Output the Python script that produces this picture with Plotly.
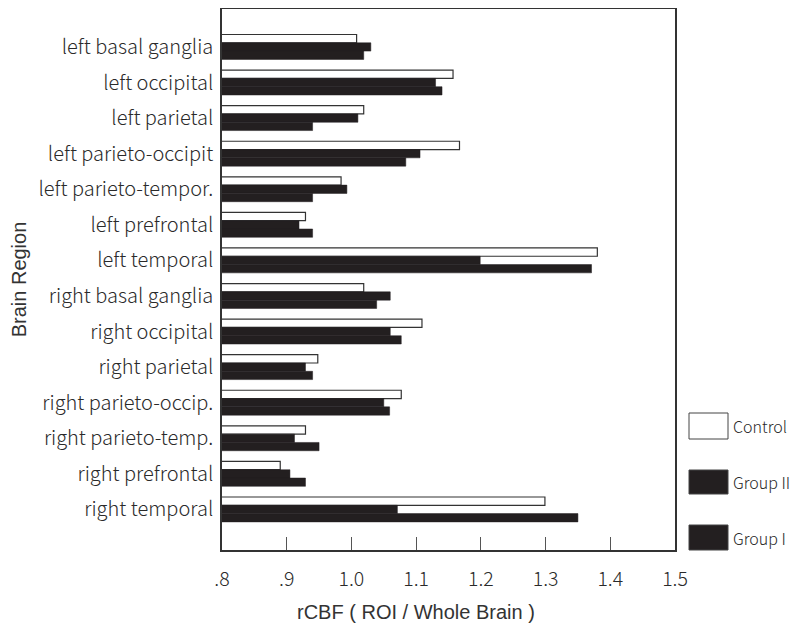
import plotly.graph_objects as go

regions = ["left basal ganglia", "left occipital", "left parietal", "left parieto-occipit",
           "left parieto-tempor.", "left prefrontal", "left temporal", "right basal ganglia",
           "right occipital", "right parietal", "right parieto-occip.", "right parieto-temp.",
           "right prefrontal", "right temporal"]
control = [1.008, 1.157, 1.019, 1.167, 0.984, 0.929, 1.380, 1.019, 1.109, 0.948, 1.077, 0.929, 0.890, 1.299]
group2 = [1.030, 1.130, 1.010, 1.106, 0.993, 0.919, 1.199, 1.060, 1.060, 0.929, 1.050, 0.912, 0.905, 1.071]
group1 = [1.019, 1.140, 0.940, 1.084, 0.940, 0.940, 1.371, 1.039, 1.077, 0.940, 1.059, 0.950, 0.929, 1.350]
tick_vals = [0.8, 0.9, 1.0, 1.1, 1.2, 1.3, 1.4, 1.5]
tick_text = [".8", ".9", "1.0", "1.1", "1.2", "1.3", "1.4", "1.5"]
x_title = "rCBF ( ROI / Whole Brain )"
y_title = "Brain Region"

FONT = "Noto Sans CJK JP"
SANS = "Liberation Sans, Arial, sans-serif"
INK = "#231f20"
TXT = "#2a2a2a"

fig = go.Figure()
# with the reversed category axis the first trace is drawn on top of each group
fig.add_trace(go.Bar(y=regions, x=control, name="Control", orientation="h",
                     marker=dict(color="white", line=dict(color="#333", width=1.2))))
fig.add_trace(go.Bar(y=regions, x=group2, name="Group II", orientation="h",
                     marker=dict(color=INK, line=dict(color=INK, width=0.5))))
fig.add_trace(go.Bar(y=regions, x=group1, name="Group I", orientation="h",
                     marker=dict(color=INK, line=dict(color=INK, width=0.5))))

# the page body adds an 8px margin, so the figure is 8px smaller than the window
OFF = 8
W, H = 808 - OFF, 626 - OFF
L, R, T, B = 222 - OFF, 675 - OFF, 9 - OFF, 550 - OFF
pw, ph = R - L, B - T

def px(x):
    return (x - OFF - L) / pw

def py(y):
    return (B - (y - OFF)) / ph

legend_items = [("Control", "white", 413, 439), ("Group II", INK, 470, 494), ("Group I", INK, 525, 550)]
shapes = []
annotations = []
for name, col, y0, y1 in legend_items:
    shapes.append(dict(type="rect", xref="paper", yref="paper", x0=px(689), x1=px(728),
                       y0=py(y1), y1=py(y0), fillcolor=col, line=dict(color="#444", width=1)))
    annotations.append(dict(xref="paper", yref="paper", x=px(731), y=py((y0 + y1) / 2),
                            text=name, showarrow=False, xanchor="left", yanchor="middle",
                            font=dict(family=FONT, size=16, color=TXT, weight=300)))
annotations.append(dict(xref="paper", yref="paper", x=px(416), y=py(612), text=x_title,
                        showarrow=False, xanchor="center", yanchor="middle",
                        font=dict(family=SANS, size=20, color="#333")))

fig.update_layout(
    width=W, height=H,
    margin=dict(l=L, r=W - R, t=T, b=H - B, pad=0),
    paper_bgcolor="white", plot_bgcolor="white",
    barmode="group", bargap=0.3, bargroupgap=0,
    showlegend=False,
    font=dict(family=FONT, size=16, color=TXT, weight=300),
    shapes=shapes, annotations=annotations,
    xaxis=dict(range=[0.8, 1.5], tickvals=tick_vals, ticktext=tick_text, automargin=False,
               ticks="inside", ticklen=13, tickcolor="#555", tickwidth=1,
               showgrid=False, zeroline=False, showline=True, linecolor="#333", linewidth=1.5,
               mirror=True, tickfont=dict(size=19.5, weight=300), ticklabelstandoff=11),
    yaxis=dict(type="category", categoryorder="array", categoryarray=regions, automargin=False,
               range=[14.14, -1.067], ticks="", showgrid=False, zeroline=False,
               showline=True, linecolor="#333", linewidth=1.5, mirror=True,
               tickfont=dict(size=20, weight=300), ticklabelstandoff=3,
               title=dict(text=y_title,
                          font=dict(family=SANS, size=20, color="#333", weight=400), standoff=6)),
)

fig.write_html("out.html")
